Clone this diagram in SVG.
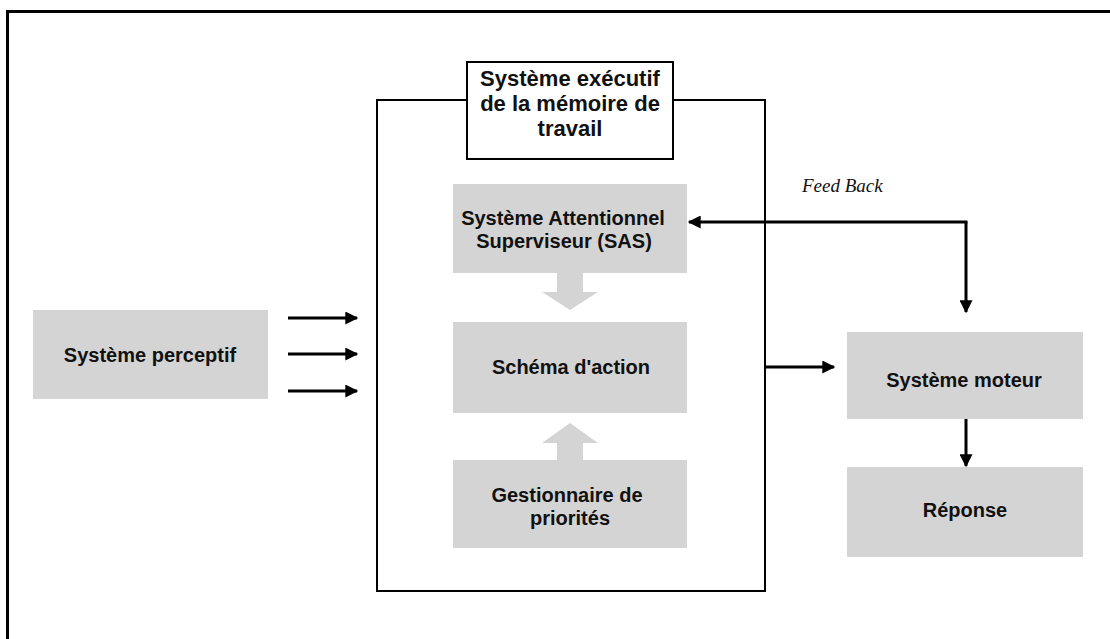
<svg xmlns="http://www.w3.org/2000/svg" width="1110" height="639" viewBox="0 0 1110 639">
<defs>
<style>
.box{fill:#d4d4d4;}
.t{font-family:"Liberation Sans",Arial,sans-serif;font-weight:bold;font-size:20px;fill:#111;text-anchor:middle;}
.tx{font-size:22px;}
.ln{fill:none;stroke:#000;stroke-width:3;}
.gar{fill:#d4d4d4;}
</style>
<marker id="ah" viewBox="0 0 10 10" refX="9" refY="5" markerWidth="15" markerHeight="13" markerUnits="userSpaceOnUse" orient="auto">
<path d="M0,0 L10,5 L0,10 Z" fill="#000"/>
</marker>
</defs>
<rect width="1110" height="639" fill="#fff"/>
<!-- page frame -->
<path d="M7.5,639 V11.5 H1110" fill="none" stroke="#000" stroke-width="3"/>

<g id="container">
<rect x="377" y="100" width="388" height="491" fill="none" stroke="#000" stroke-width="2"/>
</g>

<g id="executif">
<rect x="467" y="62" width="206" height="97" fill="#fff" stroke="#000" stroke-width="2"/>
<text class="t tx" x="570" y="86">Système exécutif</text>
<text class="t tx" x="570" y="111">de la mémoire de</text>
<text class="t tx" x="570" y="136">travail</text>
</g>

<g id="sas">
<rect class="box" x="453" y="184" width="234" height="89"/>
<text class="t" x="563" y="225">Système Attentionnel</text>
<text class="t" x="564" y="248">Superviseur (SAS)</text>
</g>

<g id="schema">
<rect class="box" x="453" y="322" width="234" height="91"/>
<text class="t" x="571" y="374" font-size="18">Schéma d'action</text>
</g>

<g id="gestionnaire">
<rect class="box" x="453" y="460" width="234" height="88"/>
<text class="t" x="567" y="502">Gestionnaire de</text>
<text class="t" x="570" y="525">priorités</text>
</g>

<g id="perceptif">
<rect class="box" x="33" y="310" width="235" height="89"/>
<text class="t" x="150" y="362">Système perceptif</text>
</g>

<g id="moteur">
<rect class="box" x="847" y="332" width="236" height="87"/>
<text class="t" x="964" y="387">Système moteur</text>
</g>

<g id="reponse">
<rect class="box" x="847" y="467" width="236" height="90"/>
<text class="t" x="965" y="517">Réponse</text>
</g>

<g id="connectors">
<!-- gray block arrows -->
<path class="gar" d="M557,273 H583 V292 H598 L570,310 L542,292 H557 Z"/>
<path class="gar" d="M557,460 H583 V443 H598 L570,423 L542,443 H557 Z"/>
<!-- inputs -->
<line class="ln" x1="288" y1="318" x2="357" y2="318" marker-end="url(#ah)"/>
<line class="ln" x1="288" y1="354" x2="357" y2="354" marker-end="url(#ah)"/>
<line class="ln" x1="288" y1="391" x2="357" y2="391" marker-end="url(#ah)"/>
<!-- output to moteur -->
<line class="ln" x1="765" y1="367" x2="834" y2="367" marker-end="url(#ah)"/>
<!-- moteur to reponse -->
<line class="ln" x1="966" y1="419" x2="966" y2="466" marker-end="url(#ah)"/>
<!-- feedback -->
<path class="ln" d="M967.5,222 H689" marker-end="url(#ah)"/>
<path class="ln" d="M966,222 V312" marker-end="url(#ah)"/>
<text x="802" y="192" font-family="'Liberation Serif','Times New Roman',serif" font-style="italic" font-size="19" fill="#111">Feed Back</text>
</g>
</svg>
